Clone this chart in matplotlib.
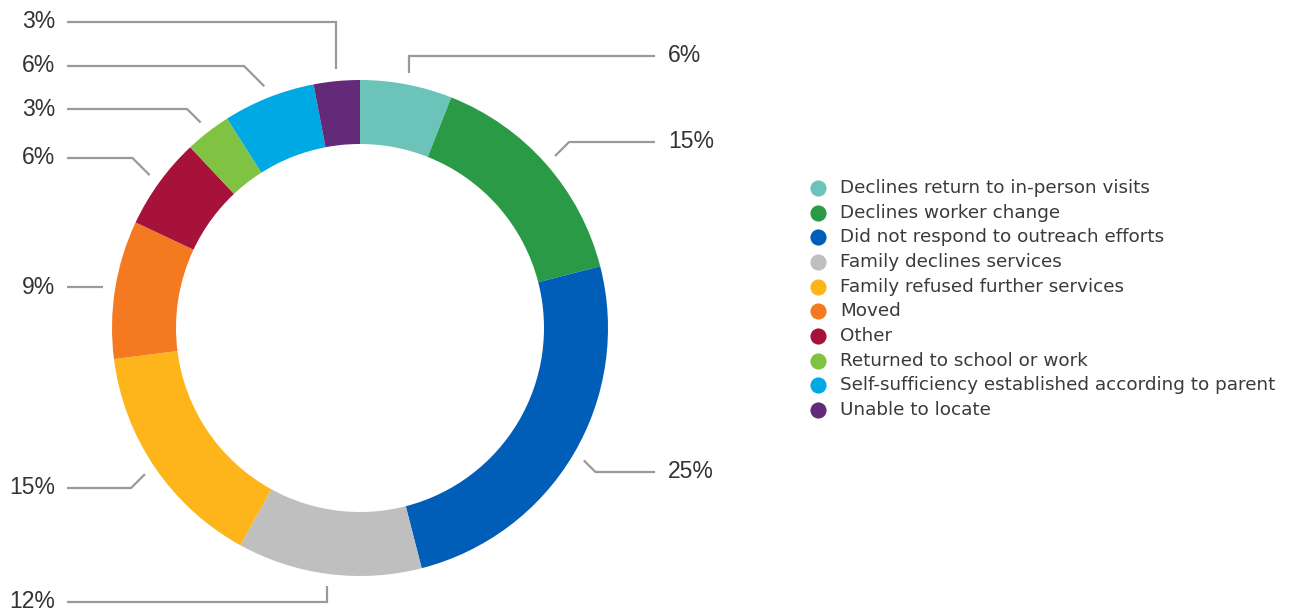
import numpy as np
import matplotlib.pyplot as plt
from matplotlib import font_manager

# data
categories = ['Declines return to in-person visits', 'Declines worker change',
              'Did not respond to outreach efforts', 'Family declines services',
              'Family refused further services', 'Moved', 'Other',
              'Returned to school or work',
              'Self-sufficiency established according to parent', 'Unable to locate']
values = [6, 15, 25, 12, 15, 9, 6, 3, 6, 3]
colors = ['#6CC3BA', '#2A9A47', '#005EB8', '#BFBFBF', '#FDB51B',
          '#F47920', '#A6123A', '#80C241', '#00A9E4', '#642A7A']

# pick the regular (not narrow) Liberation Sans file
pct_font = None
for f in font_manager.fontManager.ttflist:
    if f.name == 'Liberation Sans' and f.weight in (400, 'normal') \
            and f.style == 'normal' and 'Narrow' not in f.fname:
        pct_font = font_manager.FontProperties(fname=f.fname, size=16.5)
        break
if pct_font is None:
    pct_font = font_manager.FontProperties(family='DejaVu Sans', size=15.5)

W, H = 1299, 614
fig = plt.figure(figsize=(W / 100, H / 100), dpi=100)
ax = fig.add_axes([0, 0, 1, 1])

# donut (pixel coords, y measured from bottom)
cx, cy = 360, H - 328
r_out, ring = 248, 64
ax.pie(values, colors=colors, startangle=90, counterclock=False,
       center=(cx, cy), radius=r_out, frame=True,
       wedgeprops=dict(width=ring, linewidth=0))
ax.set_xlim(0, W)
ax.set_ylim(0, H)
ax.set_aspect('equal')
ax.axis('off')

# leader lines and labels
label_y = [56, 142, 472, 602, 488, 287, 158, 109, 66, 22]   # image px
elbow = ['v', 'd', 'd', 'v', 'd', 'n', 'd', 'd', 'd', 'v']
line_col = '#9a9a9a'
frac = np.cumsum([0] + values[:-1]) + np.array(values) / 2
ang = np.deg2rad(90 - frac / sum(values) * 360)
for v, a, ly, e in zip(values, ang, label_y, elbow):
    x0 = cx + 260 * np.cos(a)
    y0 = cy + 260 * np.sin(a)
    y1 = H - ly
    right = x0 > cx + 20 or (e == 'v' and x0 > cx)
    if e == 'v':
        x1 = x0
    elif e == 'd':
        x1 = x0 + abs(y1 - y0) * (1 if right else -1)
    else:
        x1, y1 = x0, y0
    x_end = 655 if right else 67
    ax.plot([x0, x1, x_end], [y0, y1, y1], color=line_col, lw=1.6,
            solid_capstyle='butt', solid_joinstyle='miter')
    if right:
        ax.text(668, y1, f'{v}%', ha='left', va='center',
                fontproperties=pct_font, color='#333333')
    else:
        ax.text(55, y1, f'{v}%', ha='right', va='center',
                fontproperties=pct_font, color='#333333')

# legend
for i, (lab, c) in enumerate(zip(categories, colors)):
    y = H - (188 + i * 24.65)
    ax.scatter([818], [y], s=135, color=c, linewidths=0)
    ax.text(840, y, lab, ha='left', va='center', fontsize=13.2,
            family='DejaVu Sans', color='#3a3a3a')

fig.savefig('out.png', dpi=100)
